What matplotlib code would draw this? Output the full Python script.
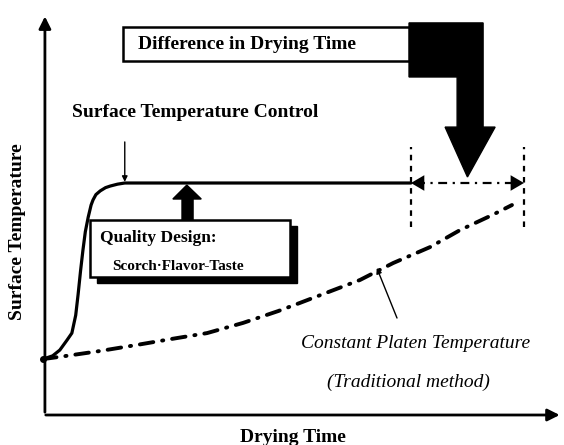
import matplotlib
matplotlib.use("Agg")
import matplotlib.pyplot as plt
from matplotlib.patches import Polygon, Rectangle
import numpy as np

# surface temperature control curve (time, temperature in arbitrary units)
time_ctrl = [0.0, 0.2, 0.35, 0.5, 0.6, 0.68, 0.73, 0.78, 0.83, 0.88, 0.94, 1.0, 1.04, 1.1, 1.19, 1.3, 1.4, 1.55, 1.7, 7.65]
temp_ctrl = [2.41, 2.55, 2.8, 3.23, 3.53, 4.3, 5.2, 6.2, 7.1, 7.9, 8.53, 9.05, 9.27, 9.5, 9.66, 9.8, 9.87, 9.95, 10.0, 10.0]

# constant platen temperature curve (traditional method)
time_trad = [0.0, 0.46, 1.19, 1.95, 2.68, 3.41, 4.16, 4.89, 5.34, 6.59, 7.28, 8.05, 8.67, 9.34, 9.75]
temp_trad = [2.41, 2.54, 2.76, 3.02, 3.28, 3.53, 3.97, 4.48, 4.83, 5.82, 6.55, 7.24, 7.97, 8.62, 9.05]

end_ctrl = 7.65   # drying end, surface temperature control
end_trad = 10.0   # drying end, traditional method
plateau = 10.0

bold = dict(family="Liberation Serif", fontweight="bold", color="black")
ital = dict(family="Liberation Serif", style="italic", color="black")

fig = plt.figure(figsize=(5.64, 4.45), dpi=100)
ax = fig.add_axes([0, 0, 1, 1])
ax.set_xlim(-0.894, 10.832)
ax.set_ylim(-1.293, 17.888)
ax.axis("off")

# axes with arrows
ax.annotate("", xy=(0.04, 17.3), xytext=(0.04, 0.0),
            arrowprops=dict(arrowstyle="-|>", lw=2, color="black", mutation_scale=18))
ax.annotate("", xy=(10.8, 0.0), xytext=(0.0, 0.0),
            arrowprops=dict(arrowstyle="-|>", lw=2, color="black", mutation_scale=18))
ax.text(5.2, -0.95, "Drying Time", fontsize=14, ha="center", va="center", **bold)
ax.text(-0.52, 7.89, "Surface Temperature", fontsize=14, rotation=90, ha="center", va="center", **bold)

# curves
ax.plot(time_ctrl, temp_ctrl, color="black", lw=2.3, solid_capstyle="round")
ax.plot(time_trad, temp_trad, color="black", lw=2.8, linestyle=(0, (3.5, 2.3, 0.3, 2.3)),
        dash_capstyle="round")
ax.plot([0.0], [2.41], "o", color="black", ms=4)

# end markers (vertical dashed lines)
for x in (end_ctrl, end_trad):
    ax.plot([x, x], [8.1, 11.55], color="black", lw=1.6, linestyle=(0, (2.5, 2.5)))

# difference arrow
ax.plot([end_ctrl + 0.1, end_trad - 0.1], [plateau, plateau], color="black", lw=1.6,
        linestyle=(0, (4, 2.5, 1, 2.5)))
for x0, x1 in ((end_ctrl + 0.4, end_ctrl), (end_trad - 0.4, end_trad)):
    ax.annotate("", xy=(x1, plateau), xytext=(x0, plateau),
                arrowprops=dict(arrowstyle="-|>,head_length=0.6,head_width=0.35", lw=0.01,
                                color="black", mutation_scale=16, shrinkA=0, shrinkB=0))

# big black L-shaped arrow
mid = (end_ctrl + end_trad) / 2
big = [(7.61, 16.9), (9.15, 16.9), (9.15, 12.41), (9.4, 12.41), (mid, 10.26),
       (8.36, 12.41), (8.61, 12.41), (8.61, 14.57), (7.61, 14.57)]
ax.add_patch(Polygon(big, closed=True, facecolor="black", edgecolor="black", lw=1))

# "Difference in Drying Time" box
ax.add_patch(Rectangle((1.66, 15.26), 7.61 - 1.66, 16.72 - 15.26, facecolor="white",
                       edgecolor="black", lw=1.8))
ax.text(1.97, 15.99, "Difference in Drying Time", fontsize=14, ha="left", va="center", **bold)

# surface temperature control label
ax.text(0.6, 13.02, "Surface Temperature Control", fontsize=14, ha="left", va="center", **bold)
ax.annotate("", xy=(1.7, plateau + 0.05), xytext=(1.7, 11.77),
            arrowprops=dict(arrowstyle="-|>", lw=1, color="black", mutation_scale=8,
                            shrinkA=0, shrinkB=0))

# block up arrow from quality design box
up = [(2.89, 8.36), (2.89, 9.31), (2.70, 9.31), (2.99, 9.91), (3.29, 9.31),
      (3.12, 9.31), (3.12, 8.36)]
ax.add_patch(Polygon(up, closed=True, facecolor="black", edgecolor="black", lw=1))

# quality design box with shadow
ax.add_patch(Rectangle((0.977 + 0.146, 5.95 - 0.26), 5.135 - 0.977, 8.41 - 5.95,
                       facecolor="black", edgecolor="black", lw=1))
ax.add_patch(Rectangle((0.977, 5.95), 5.135 - 0.977, 8.41 - 5.95, facecolor="white",
                       edgecolor="black", lw=1.8))
ax.text(1.19, 7.63, "Quality Design:", fontsize=12.5, ha="left", va="center", **bold)
ax.text(1.44, 6.42, "Scorch\u00b7Flavor-Taste", fontsize=11, ha="left", va="center", **bold)

# traditional method label
ax.annotate("", xy=(6.94, 6.34), xytext=(7.36, 4.18),
            arrowprops=dict(arrowstyle="-|>", lw=1, color="black", mutation_scale=8,
                            shrinkA=0, shrinkB=0))
ax.text(7.75, 3.10, "Constant Platen Temperature", fontsize=14, ha="center", va="center", **ital)
ax.text(7.60, 1.42, "(Traditional method)", fontsize=14, ha="center", va="center", **ital)

fig.savefig("out.png", dpi=100, facecolor="white")
